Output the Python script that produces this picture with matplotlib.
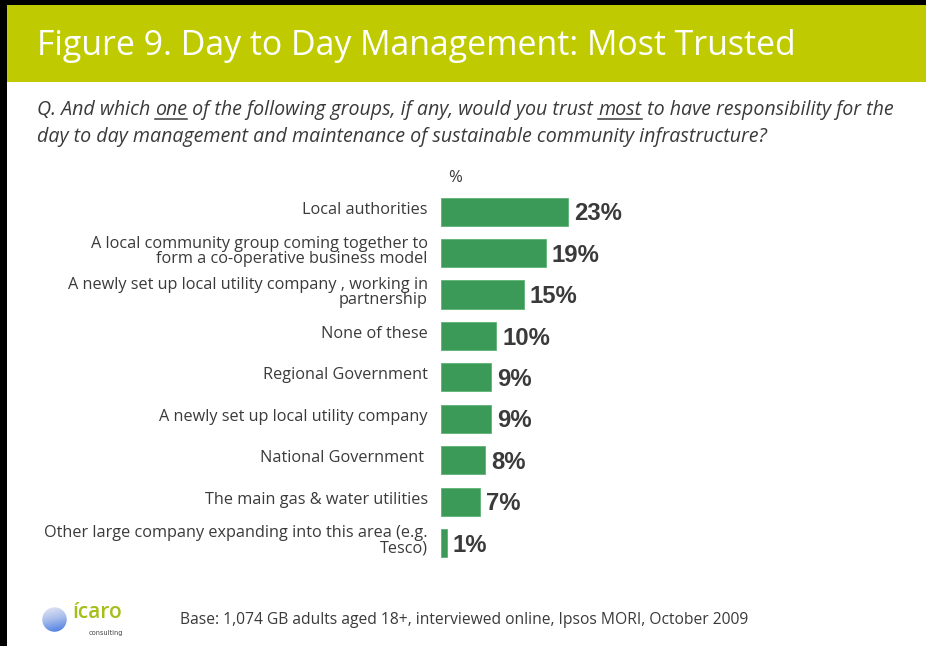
import numpy as np
import matplotlib
matplotlib.use("Agg")
import matplotlib.pyplot as plt
from matplotlib.patches import Rectangle, Circle
from matplotlib.colors import LinearSegmentedColormap

groups = ["Local authorities",
          "A local community group coming together to\nform a co-operative business model",
          "A newly set up local utility company , working in\npartnership",
          "None of these",
          "Regional Government",
          "A newly set up local utility company",
          "National Government ",
          "The main gas & water utilities",
          "Other large company expanding into this area (e.g.\nTesco)"]
trust = [23, 19, 15, 10, 9, 9, 8, 7, 1]

title = "Figure 9. Day to Day Management: Most Trusted"
question = [("Q. And which ", False), ("one", True),
            (" of the following groups, if any, would you trust ", False),
            ("most", True), (" to have responsibility for the", False)]
question2 = "day to day management and maintenance of sustainable community infrastructure?"
base_note = "Base: 1,074 GB adults aged 18+, interviewed online, Ipsos MORI, October 2009"

W, H = 926, 646
band = "#BFCB00"
bar_col = "#3C9A58"
txt = "#3A3A3A"

fig = plt.figure(figsize=(W / 100, H / 100), dpi=100)
fig.patch.set_facecolor("white")

def px(x, y):
    return x / W, 1 - y / H

# frame and header band
fig.add_artist(Rectangle((0, 0), 7 / W, 1, transform=fig.transFigure, color="black", lw=0))
fig.add_artist(Rectangle(px(0, 5), 1, 5 / H, transform=fig.transFigure, color="black", lw=0))
fig.add_artist(Rectangle(px(7, 82), 1, 77 / H, transform=fig.transFigure, color=band, lw=0))

fig.text(*px(37, 46), title, color="white", fontsize=24.4, family="Open Sans",
         va="center", ha="left")

# question, with underlined words
renderer = fig.canvas.get_renderer()
x0 = 37
qstyle = dict(fontsize=14.1, family="Open Sans", style="italic", color=txt, va="baseline")
underlined = []
for part, ul in question:
    t = fig.text(*px(x0, 115), part, **qstyle)
    bb = t.get_window_extent(renderer)
    if ul:
        underlined.append((bb.x0, bb.x1))
    x0 += bb.width
for a, b in underlined:
    fig.add_artist(plt.Line2D([a / W, b / W], [1 - 118.5 / H] * 2, transform=fig.transFigure,
                              color=txt, lw=1.1))
fig.text(*px(37, 142), question2, **qstyle)

# bar chart
ax = fig.add_axes([441 / W, 1 - 563.7 / H, 165.6 / W, 372.7 / H])
ypos = np.arange(len(groups))
ax.barh(ypos, trust, height=0.68, color=bar_col, edgecolor="#5DB374", lw=0.6)
ax.set_xlim(0, 30)
ax.set_ylim(len(groups) - 0.5, -0.5)
for s in ax.spines.values():
    s.set_visible(False)
ax.set_xticks([])
ax.set_yticks([])
for y, v, lab in zip(ypos, trust, groups):
    ax.text(v + 1.1, y + 0.05, f"{v}%", fontsize=17.2, fontweight="bold",
            family="Liberation Sans", color=txt, va="center", ha="left")
    ax.text(-2.4, y - 0.05, lab, fontsize=11.7, family="Open Sans", color=txt,
            va="center", ha="right", linespacing=0.92)
ax.text(2.5, -0.62, "%", fontsize=12, family="Open Sans", color=txt,
        va="bottom", ha="center")

# footer logo: shaded sphere
lax = fig.add_axes([42 / W, 1 - 632 / H, 25 / W, 25 / H])
lax.set_axis_off()
gy, gx = np.mgrid[0:1:100j, 0:1:100j]
shade = np.clip(0.85 * gy + 0.2 * gx, 0, 1)
sphere = LinearSegmentedColormap.from_list("sphere", ["#ECECF2", "#A9BEEC", "#4A7BE2"])
im = lax.imshow(shade, cmap=sphere, extent=(0, 1, 0, 1), origin="upper")
clip = Circle((0.5, 0.5), 0.49, transform=lax.transData)
im.set_clip_path(clip)
lax.set_xlim(0, 1)
lax.set_ylim(0, 1)

fig.text(*px(72, 612), "\u00edcaro", fontsize=15, family="Open Sans", fontweight="semibold",
         color="#A6BE1A", va="center", ha="left")
fig.text(*px(123, 633), "consulting", fontsize=4.8, family="DejaVu Sans", color="#444444",
         va="center", ha="right")
fig.text(*px(180, 620), base_note, fontsize=11.25, family="Open Sans", color=txt,
         va="center", ha="left")

fig.savefig("out.png", dpi=100)
